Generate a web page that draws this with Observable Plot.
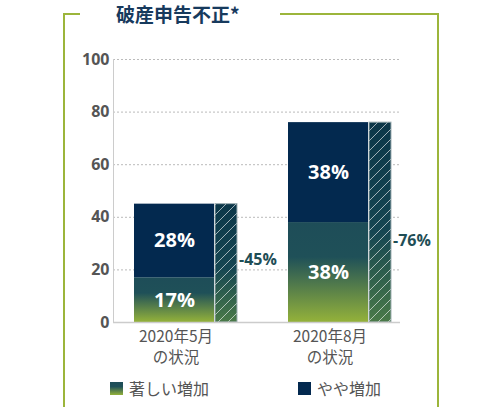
<!DOCTYPE html>
<html>
<head>
<meta charset="utf-8">
<script src="https://cdn.jsdelivr.net/npm/d3@7"></script>
<script src="https://cdn.jsdelivr.net/npm/@observablehq/plot@0.6"></script>
<style>
  html, body { margin: 0; padding: 0; background: #fff; }
  #wrap { position: relative; width: 498px; height: 407px; overflow: hidden;
          font-family: "Open Sans", "Noto Sans CJK JP", sans-serif; }
  #chart { position: absolute; left: 0; top: 0; }
  .fr { position: absolute; background: #9cb53b; }
  #title { position: absolute; left: 116px; top: 4px; font-size: 19px; line-height: 20px;
           font-weight: bold; color: #173a5d; white-space: nowrap;
           font-family: "Noto Sans CJK JP", sans-serif; }
  .lg { position: absolute; top: 376px; display: flex; align-items: center; gap: 6px;
        font-size: 16px; color: #555; font-family: "Noto Sans CJK JP", sans-serif; }
  .sw { width: 13px; height: 13px; display: inline-block; }
</style>
</head>
<body>
<div id="wrap">
  <div class="fr" style="left:63px;top:13px;width:2px;height:394px"></div>
  <div class="fr" style="left:63px;top:13px;width:17px;height:2px"></div>
  <div class="fr" style="left:280px;top:13px;width:159px;height:2px"></div>
  <div class="fr" style="left:437px;top:13px;width:2px;height:394px"></div>
  <div id="title">破産申告不正*</div>
  <div id="chart"></div>
  <div class="lg" style="left:110px"><span class="sw" style="background:linear-gradient(#1e4d58 0%, #1f5058 35%, #94b23a 100%)"></span><span>著しい増加</span></div>
  <div class="lg" style="left:298px"><span class="sw" style="background:#03294f"></span><span>やや増加</span></div>
</div>
<script>
// ---- data ----
const periods = ["2020年5月の状況", "2020年8月の状況"];
const significantIncrease = [17, 38];   // 著しい増加
const slightIncrease = [28, 38];        // やや増加
const changeLabelAt = [24, 31];         // where the total label sits (value units)
const yTicks = [0, 20, 40, 60, 80, 100];

const rows = periods.map((p, i) => ({
  period: p,
  sig: significantIncrease[i],
  slight: slightIncrease[i],
  total: significantIncrease[i] + slightIncrease[i],
  labelAt: changeLabelAt[i]
}));

const font = '"Open Sans", "Noto Sans CJK JP", sans-serif';

const chart = Plot.plot({
  width: 498,
  height: 370,
  marginLeft: 113,
  marginRight: 98,
  marginTop: 59,
  marginBottom: 48,
  style: { fontFamily: font, background: "transparent", overflow: "visible" },
  x: { type: "band", domain: periods, paddingInner: 0.329, paddingOuter: 0.0904, align: 0.714, label: null },
  y: { domain: [0, 100], label: null },
  marks: [
    Plot.gridY(yTicks.filter(t => t > 0), { stroke: "#bbb", strokeOpacity: 1, strokeDasharray: "2,2" }),
    Plot.frame({ anchor: "left", stroke: "#ccc" }),
    Plot.axisY({ ticks: yTicks, tickSize: 0, tickPadding: 4, fontSize: 16, fontWeight: "bold", fill: "#555", label: null }),
    Plot.axisX({ tickSize: 0, tickPadding: 5, fontSize: 15.5, fill: "#555", dx: -10, lineHeight: 1.34,
      fontFamily: '"Noto Sans CJK JP", sans-serif',
      tickFormat: d => d.replace("の", "\nの"), label: null }),
    // main stacked bars
    Plot.barY(rows, { x: "period", y1: 0, y2: "sig", fill: "url(#gGreen)", insetRight: 23, insetLeft: 0 }),
    Plot.barY(rows, { x: "period", y1: "sig", y2: "total", fill: "#03294f", insetRight: 23, insetLeft: 0 }),
    // hatched total bar
    Plot.barY(rows, { x: "period", y1: 0, y2: "total", fill: "url(#gHatch)", insetLeft: 81 }),
    Plot.barY(rows, { x: "period", y1: 0, y2: "total", fill: "url(#pHatch)", stroke: "#9fb0b4", strokeWidth: 1, insetLeft: 81 }),
    Plot.ruleY([0], { stroke: "#ccc", strokeWidth: 1.5 }),
    // in-bar labels
    Plot.text(rows, { x: "period", y: d => d.sig / 2, text: d => d.sig + "%", dx: -11.5,
      fill: "white", fontSize: 20, fontWeight: "bold" }),
    Plot.text(rows, { x: "period", y: d => d.sig + d.slight / 2, text: d => d.slight + "%", dx: -11.5,
      fill: "white", fontSize: 20, fontWeight: "bold" }),
    // total change labels
    Plot.text(rows, { x: "period", y: "labelAt", text: d => "-" + d.total + "%", dx: 53,
      textAnchor: "start", fill: "#1f4e56", fontSize: 16, fontWeight: "bold" })
  ]
});

const svg = d3.select(chart);
const defs = svg.insert("defs", ":first-child");
const g1 = defs.append("linearGradient").attr("id", "gGreen").attr("x1", 0).attr("y1", 0).attr("x2", 0).attr("y2", 1);
g1.append("stop").attr("offset", "0%").attr("stop-color", "#1e4d58");
g1.append("stop").attr("offset", "35%").attr("stop-color", "#1f5058");
g1.append("stop").attr("offset", "100%").attr("stop-color", "#94b23a");
const g2 = defs.append("linearGradient").attr("id", "gHatch").attr("x1", 0).attr("y1", 0).attr("x2", 0).attr("y2", 1);
g2.append("stop").attr("offset", "0%").attr("stop-color", "#0c3749");
g2.append("stop").attr("offset", "55%").attr("stop-color", "#164652");
g2.append("stop").attr("offset", "100%").attr("stop-color", "#4a7a48");
const pat = defs.append("pattern").attr("id", "pHatch").attr("patternUnits", "userSpaceOnUse")
  .attr("width", 10).attr("height", 10);
pat.append("path").attr("d", "M-2,2 L2,-2 M0,10 L10,0 M8,12 L12,8")
  .attr("stroke", "#ffffff").attr("stroke-opacity", 0.6).attr("stroke-width", 1);

document.getElementById("chart").appendChild(chart);
</script>
</body>
</html>
